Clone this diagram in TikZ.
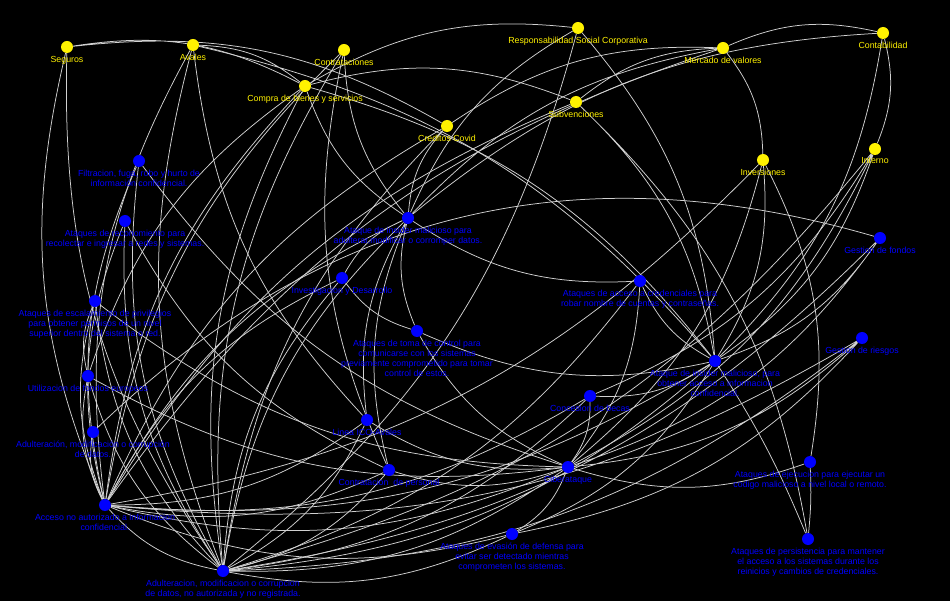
\documentclass[tikz,border=0pt]{standalone}
\usepackage{fontspec}
\setmainfont{Liberation Sans}
\pgfdeclarelayer{bg}
\pgfdeclarelayer{edges}
\pgfsetlayers{bg,edges,main}
\tikzset{
  ydot/.style={circle,fill=yellow,inner sep=0pt,minimum size=12pt},
  bdot/.style={circle,fill=blue,inner sep=0pt,minimum size=12pt},
  ylab/.style={text=yellow,font=\fontsize{8.8}{10}\selectfont,align=center,inner sep=0pt,label distance=2.5pt},
  blab/.style={text=blue,font=\fontsize{8.8}{10}\selectfont,align=center,inner sep=0pt,label distance=2.5pt},
  edge/.style={draw=white!82!black,line width=0.75pt,bend right=18}
}

\begin{document}
\begin{tikzpicture}[x=1pt,y=-1pt]
		%%%%% START %%%%%
		\begin{pgfonlayer}{bg}
		\fill[black] (0,0) rectangle (950,601);
		\end{pgfonlayer}
		\useasboundingbox (0,0) rectangle (950,601);
		
		% areas
		\node[ydot,label={[ylab]below:Seguros}] (seg) at (67,47) {};
		\node[ydot,label={[ylab]below:Avales}] (ava) at (193,45) {};
		\node[ydot,label={[ylab]below:Contrataciones}] (ctr) at (344,50) {};
		\node[ydot,label={[ylab]below:Compra de bienes y servicios}] (cbs) at (305,86) {};
		\node[ydot,label={[ylab]below:Creditos Covid}] (ccv) at (447,126) {};
		\node[ydot,label={[ylab]below:Responsabilidad Social Corporativa}] (rsc) at (578,28) {};
		\node[ydot,label={[ylab]below:Mercado de valores}] (mdv) at (723,48) {};
		\node[ydot,label={[ylab]below:Contabilidad}] (cnt) at (883,33) {};
		\node[ydot,label={[ylab]below:Subvenciones}] (sub) at (576,102) {};
		\node[ydot,label={[ylab]below:Inversiones}] (inv) at (763,160) {};
		\node[ydot,label={[ylab]below:Interno}] (itn) at (875,149) {};
		
		% riesgos y procesos
		\node[bdot,label={[blab]below:{Filtracion, fuga, robo y hurto de\\información confidencial.}}] (fil) at (139,161) {};
		\node[bdot,label={[blab]below:{Ataques de reconomiento para\\recolectar e ingresar a redes y sistemas.}}] (rec) at (125,221) {};
		\node[bdot,label={[blab]below:{Ataques de escalamiento de privilegios\\para obtener permisos de un nivel\\superior dentro del sistema o red.}}] (esc) at (95,301) {};
		\node[bdot,label={[blab]below:{Ataque de insider malicioso para\\adulterar,modificar o corromper datos.}}] (iad) at (408,218) {};
		\node[bdot,label={[blab]below:Investigacion y Desarrollo}] (ide) at (342,278) {};
		\node[bdot,label={[blab]below:{Ataques de toma de control para\\comunicarse con los sistemas\\previamente comprometido para tomar\\control de estos.}}] (tom) at (417,331) {};
		\node[bdot,label={[blab]below:{Ataques de acceso a credenciales para\\robar nombre de cuentas y contraseñas.}}] (acr) at (640,281) {};
		\node[bdot,label={[blab]below:Gestion de fondos}] (gfo) at (880,238) {};
		\node[bdot,label={[blab]below:Gestion de riesgos}] (gri) at (862,338) {};
		\node[bdot,label={[blab]below:{Ataque de insider malicioso, para\\obtener acceso a informacion\\confidencial.}}] (iob) at (715,361) {};
		\node[bdot,label={[blab]below:Concesion de becas}] (bec) at (590,396) {};
		\node[bdot,label={[blab]below:Utilizacion de fondos europeos}] (ufe) at (88,376) {};
		\node[bdot,label={[blab]below:{Adulteración, modificación o corrupción\\de datos.}}] (adu) at (93,432) {};
		\node[bdot,label={[blab]below:Linea ICO-Avales}] (ico) at (367,420) {};
		\node[bdot,label={[blab]below:Contratacion\ \ de personal}] (cpe) at (389,470) {};
		\node[bdot,label={[blab]below:Ciberataque}] (cib) at (568,467) {};
		\node[bdot,label={[blab]below:{Ataques de ejecucion para ejecutar un\\codigo malicioso a nivel local o remoto.}}] (eje) at (810,462) {};
		\node[bdot,label={[blab]below:{Acceso no autorizado a informacion\\confidencial.}}] (ana) at (105,505) {};
		\node[bdot,label={[blab]below:{Ataques de evasión de defensa para\\evitar ser detectado mientras\\comprometen los sistemas.}}] (eva) at (512,534) {};
		\node[bdot,label={[blab]below:{Ataques de persistencia para mantener\\el acceso a los sistemas durante los\\reinicios y cambios de credenciales.}}] (per) at (808,539) {};
		\node[bdot,label={[blab]below:{Adulteracion, modificacion o corrupcion\\de datos, no autorizada y no registrada.}}] (anr) at (223,571) {};
		
		% relaciones
		\begin{pgfonlayer}{edges}
		\draw[edge] (cbs) to (seg) (ccv) to (seg) (seg) to (ana) (seg) to (anr);
		\draw[edge] (cbs) to (ava) (iob) to (ava) (ava) to (ana) (ava) to (anr) (ava) to (ico);
		\draw[edge] (ctr) to (ana) (ctr) to (anr) (ctr) to (cpe) (ctr) to (iad);
		\draw[edge] (cbs) to (iad) (cbs) to (ana) (cbs) to (anr) (cbs) to (ufe) (iob) to (cbs) (rsc) to (cbs) (sub) to (cbs);
		\draw[edge] (ccv) to (iad) (ccv) to (ana) (ccv) to (anr) (mdv) to (ccv);
		\draw[edge] (rsc) to (iad) (iob) to (rsc) (anr) to (rsc);
		\draw[edge] (inv) to (mdv) (mdv) to (iad) (cnt) to (mdv) (mdv) to (ana) (mdv) to (sub);
		\draw[edge] (per) to (sub) (iob) to (sub) (sub) to (ana);
		\draw[edge] (itn) to (cnt) (cnt) to (iad) (iob) to (cnt);
		\draw[edge] (iob) to (inv) (eje) to (inv) (cib) to (inv) (ana) to (inv);
		\draw[edge] (iob) to (itn) (bec) to (itn) (cib) to (itn) (anr) to (itn);
		\draw[edge] (gfo) to[bend right=30] (adu);
		\draw[edge] (iob) to (gfo) (cib) to (gfo) (anr) to (gfo);
		\draw[edge] (cib) to (gri) (eva) to (gri) (anr) to (gri) (ana) to (gri);
		\draw[edge] (cib) to (eje) (per) to[bend right=5] (iob) (per) to[bend right=4] (eje);
		\draw[edge] (acr) to (iob) (cib) to (acr) (anr) to (acr) (iad) to (acr);
		\draw[edge] (iad) to (ide) (iad) to (ana) (iad) to (anr) (iad) to (tom) (iad) to (ico) (iad) to (cpe);
		\draw[edge] (ide) to (ana) (ide) to (anr) (ide) to (tom);
		\draw[edge] (tom) to (iob) (tom) to (cib);
		\draw[edge] (ana) to (ico) (anr) to (ico) (ico) to (cib);
		\draw[edge] (ana) to (cpe) (anr) to (cpe) (cpe) to (cib);
		\draw[edge] (ana) to (bec) (anr) to (bec) (bec) to (iob) (cib) to (bec);
		\draw[edge] (ufe) to (ana) (ufe) to (anr) (ufe) to (cib) (esc) to (ufe);
		\draw[edge] (adu) to (ana) (esc) to (ana) (esc) to (anr) (esc) to (cib);
		\draw[edge] (rec) to (ana) (rec) to (anr) (rec) to (cpe);
		\draw[edge] (fil) to (ana) (fil) to (anr) (fil) to (cib);
		\draw[edge] (ana) to (eva) (anr) to (eva) (eva) to (cib) (eva) to (iob);
		\draw[edge] (ana) to (cib) (anr) to (cib) (ana) to (iob) (anr) to (iob) (ana) to (anr);
		\end{pgfonlayer}
		%%%%% END %%%%%
\end{tikzpicture}
\end{document}
